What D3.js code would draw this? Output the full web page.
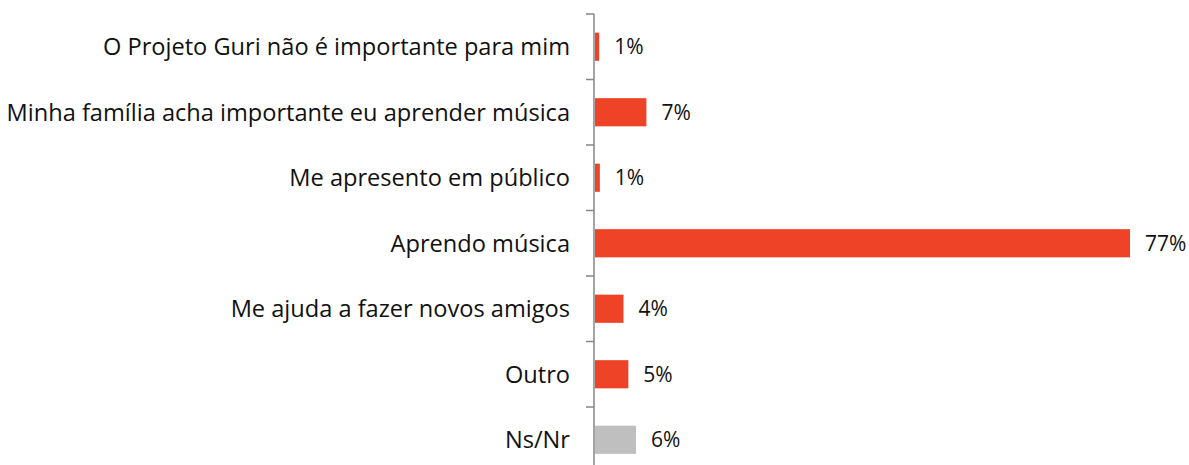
<!DOCTYPE html>
<html><head><meta charset="utf-8">
<script src="https://cdn.jsdelivr.net/npm/d3@7"></script>
<style>body{margin:0;background:#fff}</style>
</head><body>
<svg id="c" width="1189" height="465"></svg>
<script>
const categories = ["O Projeto Guri não é importante para mim","Minha família acha importante eu aprender música","Me apresento em público","Aprendo música","Me ajuda a fazer novos amigos","Outro","Ns/Nr"];
const values = [0.6, 7.4, 0.7, 77, 4.1, 4.8, 5.9];
const labels = ["1%","7%","1%","77%","4%","5%","6%"];
const colors = ["#EF4327","#EF4327","#EF4327","#EF4327","#EF4327","#EF4327","#BFBFBF"];

const svg = d3.select("#c");
const x0 = 595;
const x = d3.scaleLinear().domain([0, 77]).range([x0, 1130]);
const y = d3.scaleBand().domain(categories).range([14, 14 + 65.5*7]).paddingInner(0.57).paddingOuter(0.285);
const font = "'Open Sans', Lato, sans-serif";

svg.selectAll("rect.bar").data(categories).join("rect")
  .attr("x", x(0)).attr("y", d => y(d))
  .attr("width", (d,i) => x(values[i]) - x(0))
  .attr("height", y.bandwidth())
  .attr("fill", (d,i) => colors[i]);

svg.selectAll("text.val").data(categories).join("text")
  .attr("x", (d,i) => x(values[i]) + 15)
  .attr("y", d => y(d) + y.bandwidth()/2)
  .attr("dy", "0.36em")
  .attr("font-family", font).attr("font-size", 21).attr("fill", "#111")
  .text((d,i) => labels[i]);

svg.selectAll("text.cat").data(categories).join("text")
  .attr("x", 570)
  .attr("y", d => y(d) + y.bandwidth()/2)
  .attr("dy", "0.36em")
  .attr("text-anchor", "end")
  .attr("font-family", font).attr("font-size", 23.6).attr("fill", "#111")
  .text(d => d);

// axis
const step = y.step();
const g = svg.append("g").attr("stroke", "#868686").attr("stroke-width", 1.5);
g.append("line").attr("x1", 594).attr("x2", 594).attr("y1", 14).attr("y2", 14 + step*7);
d3.range(8).forEach(i => {
  g.append("line").attr("x1", 586).attr("x2", 594).attr("y1", 14 + step*i).attr("y2", 14 + step*i);
});
</script>
</body></html>
